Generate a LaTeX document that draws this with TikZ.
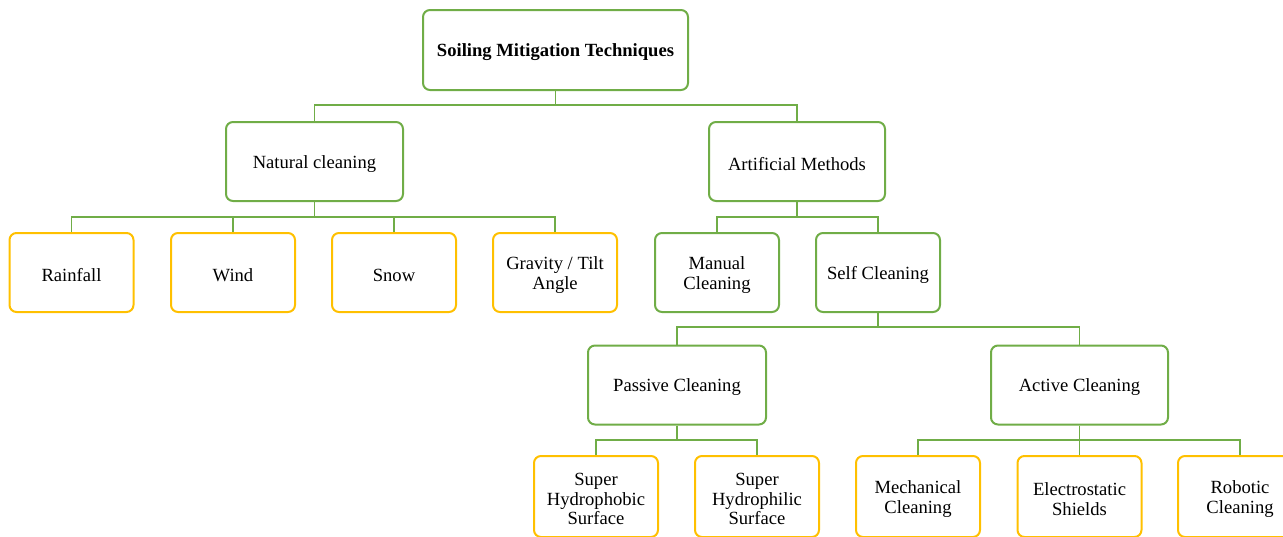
\documentclass[tikz,border=0pt]{standalone}
\usepackage{fontspec}
\setmainfont{Liberation Serif}
\definecolor{tgreen}{HTML}{70AD47}
\definecolor{tgold}{HTML}{FFC000}
\begin{document}
\begin{tikzpicture}[x=1pt,y=-1pt,
  box/.style={line width=2pt,rounded corners=7pt,fill=white,inner sep=0pt,
    minimum width=124pt,minimum height=79pt},
  gbox/.style={box,draw=tgreen},
  ybox/.style={box,draw=tgold},
  txt/.style={align=center,inner sep=0pt,font=\fontsize{18.6}{19.5}\selectfont},
  conn/.style={draw=tgreen,line width=1.6pt}]
\useasboundingbox (0,0) rectangle (1283,536);
% boxes
\node[gbox,minimum width=265pt,minimum height=80pt] (root) at (555.5,50) {};
\node[gbox,minimum width=177pt] (nat) at (314.5,161.5) {};
\node[gbox,minimum width=176pt] (art) at (797,161.5) {};
\node[ybox] (rain) at (71.5,272.5) {};
\node[ybox] (wind) at (233,272.5) {};
\node[ybox] (snow) at (394,272.5) {};
\node[ybox] (grav) at (555,272.5) {};
\node[gbox] (man) at (717,272.5) {};
\node[gbox] (self) at (878,272.5) {};
\node[gbox,minimum width=178pt] (pas) at (677,385) {};
\node[gbox,minimum width=177pt] (act) at (1079.5,385) {};
\node[ybox,minimum height=81pt] (phob) at (596,496.5) {};
\node[ybox,minimum height=81pt] (phil) at (757,496.5) {};
\node[ybox,minimum height=81pt] (mech) at (918,496.5) {};
\node[ybox,minimum height=81pt] (elec) at (1079.5,496.5) {};
\node[ybox,minimum height=81pt] (robo) at (1240,496.5) {};
% texts
\node[txt,font=\fontsize{18.6}{19.5}\selectfont\bfseries] (troot) at ([yshift=-2.5pt]root.center) {Soiling Mitigation Techniques};
\node[txt] (tnat) at ([yshift=-2.5pt]nat.center) {Natural cleaning};
\node[txt] (tart) at ([yshift=-2.5pt]art.center) {Artificial Methods};
\node[txt] (train) at ([yshift=-2.5pt]rain.center) {Rainfall};
\node[txt] (twind) at ([yshift=-2.5pt]wind.center) {Wind};
\node[txt] (tsnow) at ([yshift=-2.5pt]snow.center) {Snow};
\node[txt] (tgrav) at ([yshift=-2.5pt]grav.center) {Gravity / Tilt\\Angle};
\node[txt] (tman) at ([yshift=-2.5pt]man.center) {Manual\\Cleaning};
\node[txt] (tself) at ([yshift=-2.5pt]self.center) {Self Cleaning};
\node[txt] (tpas) at ([yshift=-2.5pt]pas.center) {Passive Cleaning};
\node[txt] (tact) at ([yshift=-2.5pt]act.center) {Active Cleaning};
\node[txt] (tphob) at ([yshift=-2.5pt]phob.center) {Super\\Hydrophobic\\Surface};
\node[txt] (tphil) at ([yshift=-2.5pt]phil.center) {Super\\Hydrophilic\\Surface};
\node[txt] (tmech) at ([yshift=-2.5pt]mech.center) {Mechanical\\Cleaning};
\node[txt] (telec) at ([yshift=-2.5pt]elec.center) {Electrostatic\\Shields};
\node[txt] (trobo) at ([yshift=-2.5pt]robo.center) {Robotic\\Cleaning};
% connectors
\draw[conn] (root.south) -- (root.south |- 0,105) -| (nat.north);
\draw[conn] (root.south |- 0,105) -| (art.north);
\foreach \c in {rain,wind,snow,grav}{
  \draw[conn] (nat.south) -- (nat.south |- 0,217) -| (\c.north);}
\foreach \c in {man,self}{
  \draw[conn] (art.south) -- (art.south |- 0,217) -| (\c.north);}
\foreach \c in {pas,act}{
  \draw[conn] (self.south) -- (self.south |- 0,327) -| (\c.north);}
\foreach \c in {phob,phil}{
  \draw[conn] (pas.south) -- (pas.south |- 0,440) -| (\c.north);}
\foreach \c in {mech,elec,robo}{
  \draw[conn] (act.south) -- (act.south |- 0,440) -| (\c.north);}
\end{tikzpicture}
\end{document}
